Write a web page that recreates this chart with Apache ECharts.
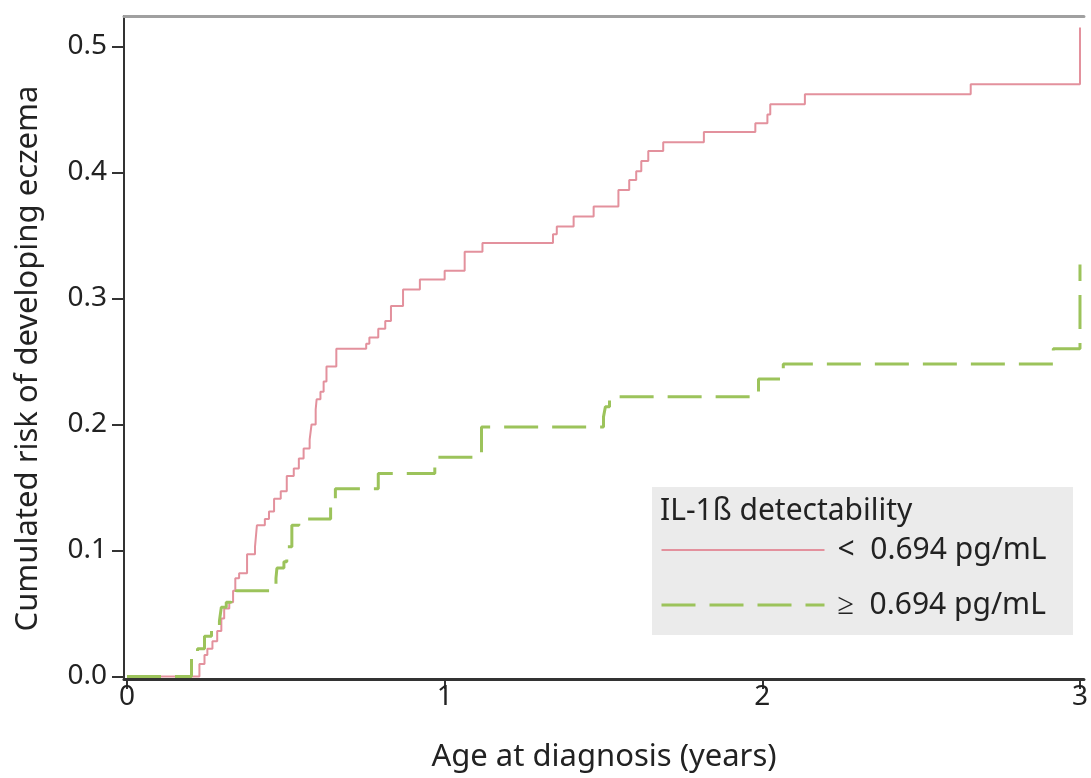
<!DOCTYPE html>
<html>
<head>
<meta charset="utf-8">
<script src="https://cdn.jsdelivr.net/npm/echarts@6/dist/echarts.min.js"></script>
<style>html,body{margin:0;padding:0;background:#fff}#c{width:1091px;height:778px}</style>
</head>
<body>
<div id="c"></div>
<script>
const lowTimes = [0, 0.228, 0.244, 0.253, 0.269, 0.284, 0.297, 0.306, 0.322, 0.334, 0.341, 0.353, 0.378, 0.403, 0.409, 0.434, 0.447, 0.463, 0.484, 0.503, 0.525, 0.541, 0.556, 0.575, 0.581, 0.594, 0.597, 0.609, 0.619, 0.628, 0.659, 0.753, 0.763, 0.791, 0.813, 0.831, 0.869, 0.922, 1.0, 1.063, 1.119, 1.341, 1.353, 1.406, 1.469, 1.547, 1.581, 1.603, 1.619, 1.641, 1.688, 1.816, 1.978, 2.016, 2.025, 2.134, 2.656, 3.0];
const lowRisk = [0, 0.010, 0.017, 0.022, 0.028, 0.036, 0.046, 0.054, 0.059, 0.068, 0.078, 0.082, 0.097, 0.103, 0.120, 0.125, 0.131, 0.141, 0.147, 0.159, 0.165, 0.173, 0.181, 0.188, 0.200, 0.212, 0.220, 0.226, 0.234, 0.246, 0.260, 0.264, 0.269, 0.276, 0.282, 0.294, 0.307, 0.315, 0.322, 0.337, 0.344, 0.351, 0.357, 0.365, 0.373, 0.386, 0.394, 0.401, 0.409, 0.417, 0.424, 0.432, 0.439, 0.446, 0.454, 0.462, 0.470, 0.515];
const highTimes = [0, 0.203, 0.222, 0.244, 0.266, 0.291, 0.297, 0.3125, 0.328, 0.344, 0.469, 0.472, 0.494, 0.503, 0.519, 0.541, 0.641, 0.656, 0.791, 0.969, 1.116, 1.5, 1.506, 1.519, 1.988, 2.066, 2.916, 3.0];
const highRisk = [0, 0.016, 0.022, 0.032, 0.038, 0.044, 0.055, 0.059, 0.063, 0.068, 0.078, 0.086, 0.091, 0.103, 0.120, 0.125, 0.135, 0.149, 0.161, 0.174, 0.198, 0.206, 0.214, 0.222, 0.236, 0.248, 0.260, 0.327];
const xTicks = [0, 1, 2, 3];
const yTicks = [0, 0.1, 0.2, 0.3, 0.4, 0.5];
const seriesNames = ['<  0.694 pg/mL', '\u2265  0.694 pg/mL'];
const legendTitle = 'IL-1\u00DF detectability';

const FONT = 'Noto Sans';
const TXT = '#222';
const RED = '#e3919d';
const GREEN = '#9cc35b';

const zip = (a, b) => a.map((v, i) => [v, b[i]]);

const chart = echarts.init(document.getElementById('c'), null, {renderer: 'canvas'});
chart.setOption({
  animation: false,
  backgroundColor: '#fff',
  textStyle: {fontFamily: FONT, color: TXT},
  grid: {left: 124, top: 16, right: 0, bottom: 97.5, containLabel: false},
  xAxis: [{
    type: 'value',
    min: -0.0094, max: 3.0125,
    name: 'Age at diagnosis (years)',
    nameLocation: 'middle', nameGap: 63,
    nameTextStyle: {fontFamily: FONT, fontSize: 31, color: TXT},
    axisLine: {show: true, onZero: false, lineStyle: {color: '#333', width: 3}},
    axisTick: {show: true, length: 10, customValues: xTicks, lineStyle: {color: '#333', width: 2}},
    axisLabel: {show: true, customValues: xTicks, margin: 4, fontFamily: FONT, fontSize: 28, color: TXT},
    splitLine: {show: false}
  }, {
    type: 'value', position: 'top',
    min: -0.0094, max: 3.0125,
    axisLine: {show: true, onZero: false, lineStyle: {color: '#a0a0a0', width: 3}},
    axisTick: {show: false}, axisLabel: {show: false}, splitLine: {show: false}
  }],
  yAxis: {
    type: 'value',
    min: -0.002, max: 0.5241,
    name: 'Cumulated risk of developing eczema',
    nameLocation: 'middle', nameGap: 80, nameRotate: 90,
    nameTextStyle: {fontFamily: FONT, fontSize: 31, color: TXT, padding: [0, 22, 0, 0]},
    axisLine: {show: true, onZero: false, lineStyle: {color: '#333', width: 2}},
    axisTick: {show: true, length: 12, customValues: yTicks, lineStyle: {color: '#333', width: 2}},
    axisLabel: {show: true, customValues: yTicks, margin: 17, fontFamily: FONT, fontSize: 28, color: TXT,
      formatter: v => v.toFixed(1)},
    splitLine: {show: false}
  },
  legend: {
    left: 660, top: 535, orient: 'vertical', padding: 0,
    itemWidth: 163, itemHeight: 14, itemGap: 25,
    textStyle: {fontFamily: FONT, fontSize: 30, color: TXT, padding: [0, 0, 0, 8]},
    data: [
      {name: seriesNames[0], lineStyle: {width: 2}, itemStyle: {opacity: 0}},
      {name: seriesNames[1], lineStyle: {width: 3}, itemStyle: {opacity: 0}}
    ]
  },
  graphic: [
    {type: 'rect', left: 652, top: 487, z: -1, shape: {width: 421, height: 148}, style: {fill: '#ebebeb'}},
    {type: 'text', left: 660, top: 496, z: 10, style: {text: legendTitle, font: '30px "Noto Sans"', fill: TXT}}
  ],
  series: [{
    name: seriesNames[0], type: 'line', step: 'end', symbol: 'none',
    data: zip(lowTimes, lowRisk),
    lineStyle: {color: RED, width: 2}, itemStyle: {color: RED}
  }, {
    name: seriesNames[1], type: 'line', step: 'end', symbol: 'none',
    data: zip(highTimes, highRisk),
    lineStyle: {color: GREEN, width: 3, type: [34, 14]}, itemStyle: {color: GREEN}
  }]
});
</script>
</body>
</html>
